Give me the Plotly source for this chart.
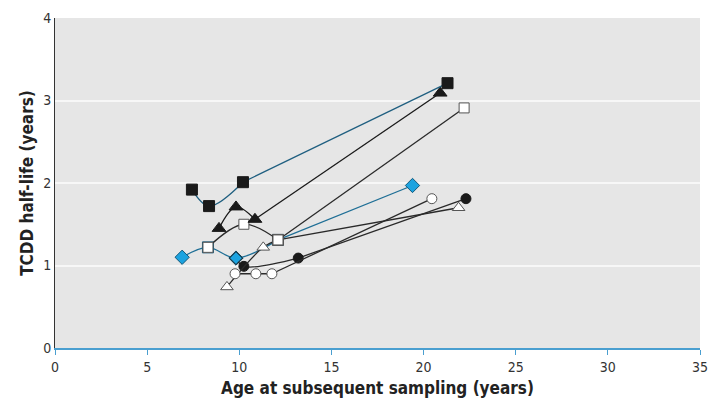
import plotly.graph_objects as go

# Data
sq_fill_x = [7.43, 8.36, 10.2, 21.3]
sq_fill_y = [1.92, 1.72, 2.01, 3.21]

tri_fill_x = [8.9, 9.82, 10.85, 20.9]
tri_fill_y = [1.45, 1.71, 1.56, 3.09]

sq_open_x = [8.3, 10.25, 12.1, 22.2]
sq_open_y = [1.22, 1.50, 1.31, 2.91]

dia_x = [6.9, 8.3, 9.82, 12.1, 19.4]
dia_y = [1.10, 1.22, 1.09, 1.31, 1.97]

tri_open_x = [9.33, 11.3, 12.1, 21.9]
tri_open_y = [0.74, 1.22, 1.31, 1.70]

circ_open_x = [9.77, 10.9, 11.77, 20.45]
circ_open_y = [0.90, 0.90, 0.90, 1.81]

circ_fill_x = [9.82, 10.25, 13.2, 22.3]
circ_fill_y = [1.09, 0.99, 1.09, 1.81]

x_ticks = [0, 5, 10, 15, 20, 25, 30, 35]
y_ticks = [0, 1, 2, 3, 4]

fig = go.Figure()

def add(x, y, symbol, fill, line_color, size=10, outline="#1a1a1a"):
    # curved early part, straight final segment
    fig.add_trace(go.Scatter(
        x=x[:-1], y=y[:-1], mode="lines",
        line=dict(color=line_color, width=1.3, shape="spline", smoothing=1.0),
        showlegend=False, hoverinfo="skip"))
    fig.add_trace(go.Scatter(
        x=x[-2:], y=y[-2:], mode="lines",
        line=dict(color=line_color, width=1.3),
        showlegend=False, hoverinfo="skip"))
    fig.add_trace(go.Scatter(
        x=x, y=y, mode="markers",
        marker=dict(symbol=symbol, size=size, color=fill,
                    line=dict(color=outline, width=1)),
        showlegend=False, hoverinfo="skip"))

add(dia_x, dia_y, ["diamond", "square", "diamond", "square", "diamond"],
    ["#1ca3e0", "#ffffff", "#1ca3e0", "#ffffff", "#1ca3e0"], "#1f6f96", size=11,
    outline="#14597a")
add(circ_fill_x, circ_fill_y, ["diamond", "circle", "circle", "circle"],
    ["#1ca3e0", "#1a1a1a", "#1a1a1a", "#1a1a1a"], "#2a2a2a", size=10)
add(tri_open_x, tri_open_y, ["triangle-up", "triangle-up", "square", "triangle-up"],
    "#ffffff", "#2a2a2a", size=11, outline="#555555")
add(circ_open_x, circ_open_y, "circle", "#ffffff", "#2a2a2a", size=10, outline="#555555")
add(sq_open_x, sq_open_y, "square", "#ffffff", "#2a2a2a", size=10, outline="#555555")
add(tri_fill_x, tri_fill_y, "triangle-up", "#1a1a1a", "#1a1a1a", size=12)
add(sq_fill_x, sq_fill_y, "square", "#1a1a1a", "#1f5f80", size=11)

font_family = "DejaVu Sans Condensed, Liberation Sans Narrow, sans-serif"

fig.update_layout(
    width=716, height=413,
    margin=dict(l=47, r=24, t=10, b=73),
    paper_bgcolor="white",
    plot_bgcolor="#e6e6e6",
    font=dict(family=font_family, size=14, color="#333333"),
    xaxis=dict(range=[0, 35], tickvals=x_ticks, ticks="outside", ticklen=5,
               tickcolor="#4a9fd0", showgrid=False, zeroline=False, automargin=False,
               showline=True, linecolor="#4a9fd0", linewidth=1.5,
               title=dict(text="<b>Age at subsequent sampling (years)</b>",
                          font=dict(size=17, color="#222222"), standoff=9)),
    yaxis=dict(range=[0, 4], tickvals=y_ticks, ticks="", automargin=False,
               showgrid=True, gridcolor="#f7f7f7", gridwidth=2,
               zeroline=False, showline=True, linecolor="#333333", linewidth=1,
               title=dict(text="<b>TCDD half-life (years)</b>",
                          font=dict(size=17, color="#222222"), standoff=5)),
)

fig.write_html("out.html")
